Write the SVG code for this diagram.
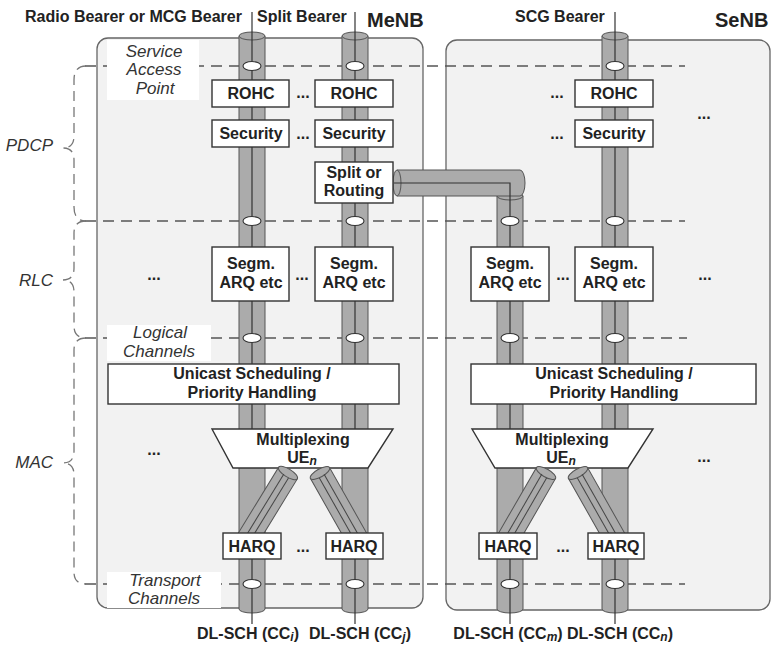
<svg xmlns="http://www.w3.org/2000/svg" width="774" height="646" viewBox="0 0 774 646">
<style>
.bg{fill:#f2f2f2;stroke:#666;stroke-width:1.3}
.box{fill:#fff;stroke:#333;stroke-width:1.4}
.lbl{fill:#fff;stroke:none}
.dash{fill:none;stroke:#555;stroke-width:1.3;stroke-dasharray:11 7}
.brace{fill:none;stroke:#777;stroke-width:1.3;stroke-dasharray:10 6}
.tube{fill:#ababab;stroke:#555;stroke-width:1}
.ln{stroke:#333;stroke-width:1.2;fill:none}
.dl{stroke:#444;stroke-width:1;fill:none}
.sap{fill:#fff;stroke:#333;stroke-width:1.1}
text{font-family:"Liberation Sans",Arial,sans-serif;font-weight:bold;font-size:16px;fill:#222}
.c{text-anchor:middle}
.it{font-style:italic;font-weight:normal;font-size:17px;fill:#333}
.big{font-size:20px}
.sub{font-style:italic;font-size:12px}
</style>

<g id="enb-areas">
<rect id="menb" class="bg" x="97" y="38" width="326" height="570" rx="11"/>
<rect id="senb" class="bg" x="446" y="40" width="324" height="570" rx="11"/>
<text x="367" y="27" class="big">MeNB</text>
<text x="715" y="27" class="big">SeNB</text>
</g>

<g id="layers">
<line class="dash" x1="85" y1="66" x2="685" y2="66"/>
<line class="dash" x1="85" y1="221" x2="685" y2="221"/>
<line class="dash" x1="85" y1="338" x2="687" y2="338"/>
<line class="dash" x1="85" y1="584" x2="685" y2="584"/>
<path class="brace" d="M86,66 Q74,66 74,80 V136 Q74,148 63,148 Q74,148 74,160 V207 Q74,221 86,221"/>
<path class="brace" d="M86,221 Q74,221 74,233 V268 Q74,280 63,280 Q74,280 74,292 V326 Q74,338 86,338"/>
<path class="brace" d="M86,338 Q74,338 74,350 V451 Q74,463 63,463 Q74,463 74,475 V572 Q74,584 86,584"/>
<text x="53" y="151" class="it" text-anchor="end">PDCP</text>
<text x="53" y="286" class="it" text-anchor="end">RLC</text>
<text x="53" y="468" class="it" text-anchor="end">MAC</text>
<rect class="lbl" x="107" y="40" width="92" height="60"/>
<text x="154" y="57" class="it c">Service</text>
<text x="154" y="75" class="it c">Access</text>
<text x="155" y="94" class="it c">Point</text>
<rect class="lbl" x="107" y="325" width="104" height="36"/>
<text x="160" y="338" class="it c">Logical</text>
<text x="159" y="357" class="it c">Channels</text>
<rect class="lbl" x="107" y="572" width="114" height="36"/>
<text x="165" y="586" class="it c">Transport</text>
<text x="164" y="604" class="it c">Channels</text>
</g>

<g id="connectors">
<path class="tube" d="M239,36 V609 A13,4 0 0 0 265,609 V36 Z"/>
<ellipse class="tube" cx="252" cy="36" rx="13" ry="4"/>
<path class="tube" d="M342,36 V609 A13,4 0 0 0 368,609 V36 Z"/>
<ellipse class="tube" cx="355" cy="36" rx="13" ry="4"/>
<path class="tube" d="M497,196 V609 A13,4 0 0 0 523,609 V196 Z"/>
<ellipse class="tube" cx="510" cy="196" rx="13" ry="4"/>
<path class="tube" d="M602,36 V609 A13,4 0 0 0 628,609 V36 Z"/>
<ellipse class="tube" cx="615" cy="36" rx="13" ry="4"/>
<path class="tube" d="M397,170 H520 A5,13 0 0 1 520,196 H397 Z"/>
<ellipse class="tube" cx="397" cy="183" rx="4" ry="13"/>
<line class="ln" x1="252" y1="12" x2="252" y2="429"/>
<line class="ln" x1="252" y1="559" x2="252" y2="624"/>
<line class="ln" x1="355" y1="12" x2="355" y2="429"/>
<line class="ln" x1="355" y1="559" x2="355" y2="624"/>
<path class="ln" d="M394,183 H510 V429"/>
<line class="ln" x1="510" y1="559" x2="510" y2="624"/>
<line class="ln" x1="615" y1="12" x2="615" y2="429"/>
<line class="ln" x1="615" y1="559" x2="615" y2="624"/>
<g id="saps">
<ellipse class="sap" cx="252" cy="66" rx="9" ry="4.5"/>
<ellipse class="sap" cx="355" cy="66" rx="9" ry="4.5"/>
<ellipse class="sap" cx="615" cy="66" rx="9" ry="4.5"/>
<ellipse class="sap" cx="252" cy="221" rx="9" ry="4.5"/>
<ellipse class="sap" cx="355" cy="221" rx="9" ry="4.5"/>
<ellipse class="sap" cx="510" cy="221" rx="9" ry="4.5"/>
<ellipse class="sap" cx="615" cy="221" rx="9" ry="4.5"/>
<ellipse class="sap" cx="252" cy="338" rx="9" ry="4.5"/>
<ellipse class="sap" cx="355" cy="338" rx="9" ry="4.5"/>
<ellipse class="sap" cx="510" cy="338" rx="9" ry="4.5"/>
<ellipse class="sap" cx="615" cy="338" rx="9" ry="4.5"/>
<ellipse class="sap" cx="252" cy="584" rx="9" ry="4.5"/>
<ellipse class="sap" cx="355" cy="584" rx="9" ry="4.5"/>
<ellipse class="sap" cx="510" cy="584" rx="9" ry="4.5"/>
<ellipse class="sap" cx="615" cy="584" rx="9" ry="4.5"/>
</g>
</g>

<g id="rohc1"><rect class="box" x="212" y="80" width="77" height="27"/><text x="251" y="99" class="c">ROHC</text></g>
<g id="rohc2"><rect class="box" x="315" y="80" width="78" height="27"/><text x="354" y="99" class="c">ROHC</text></g>
<g id="rohc4"><rect class="box" x="575" y="80" width="78" height="27"/><text x="614" y="99" class="c">ROHC</text></g>
<g id="sec1"><rect class="box" x="212" y="120" width="77" height="27"/><text x="251" y="139" class="c">Security</text></g>
<g id="sec2"><rect class="box" x="315" y="120" width="78" height="27"/><text x="354" y="139" class="c">Security</text></g>
<g id="sec4"><rect class="box" x="575" y="120" width="78" height="27"/><text x="614" y="139" class="c">Security</text></g>
<g id="split"><rect class="box" x="315" y="162" width="78" height="41"/><text x="354" y="178" class="c">Split or</text><text x="354" y="196" class="c">Routing</text></g>
<g id="segm1"><rect class="box" x="212" y="247" width="77" height="54"/><text x="251" y="269" class="c">Segm.</text><text x="251" y="288" class="c">ARQ etc</text></g>
<g id="segm2"><rect class="box" x="315" y="247" width="78" height="54"/><text x="354" y="269" class="c">Segm.</text><text x="354" y="288" class="c">ARQ etc</text></g>
<g id="segm3"><rect class="box" x="471" y="247" width="78" height="54"/><text x="510" y="269" class="c">Segm.</text><text x="510" y="288" class="c">ARQ etc</text></g>
<g id="segm4"><rect class="box" x="575" y="247" width="78" height="54"/><text x="614" y="269" class="c">Segm.</text><text x="614" y="288" class="c">ARQ etc</text></g>
<g id="sched-m"><rect class="box" x="108" y="364" width="291" height="40"/><text x="252" y="379" class="c">Unicast Scheduling /</text><text x="252" y="398" class="c">Priority Handling</text></g>
<g id="sched-s"><rect class="box" x="471" y="364" width="285" height="40"/><text x="614" y="379" class="c">Unicast Scheduling /</text><text x="614" y="398" class="c">Priority Handling</text></g>
<g id="mux-m"><polygon class="box" points="212,429 393,429 368,468 233,468"/><text x="303" y="445" class="c">Multiplexing</text><text x="302" y="463" class="c">UE<tspan class="sub" dy="2">n</tspan></text></g>
<g id="mux-s"><polygon class="box" points="472,429 653,429 628,468 495,468"/><text x="562" y="445" class="c">Multiplexing</text><text x="561" y="463" class="c">UE<tspan class="sub" dy="2">n</tspan></text></g>

<g id="mac-tubes">
<g transform="translate(288,473) rotate(31.5)"><path class="tube" d="M-11,0 V80 H11 V0 Z"/><ellipse class="tube" cx="0" cy="0" rx="11" ry="4"/><line class="dl" x1="-3" y1="3" x2="-3" y2="80"/><line class="dl" x1="3" y1="4" x2="3" y2="80"/></g>
<g transform="translate(320,473) rotate(-29.5)"><path class="tube" d="M-11,0 V80 H11 V0 Z"/><ellipse class="tube" cx="0" cy="0" rx="11" ry="4"/><line class="dl" x1="-3" y1="4" x2="-3" y2="80"/><line class="dl" x1="3" y1="3" x2="3" y2="80"/></g>
<g transform="translate(546,473) rotate(30)"><path class="tube" d="M-11,0 V80 H11 V0 Z"/><ellipse class="tube" cx="0" cy="0" rx="11" ry="4"/><line class="dl" x1="-3" y1="3" x2="-3" y2="80"/><line class="dl" x1="3" y1="4" x2="3" y2="80"/></g>
<g transform="translate(578,473) rotate(-29.5)"><path class="tube" d="M-11,0 V80 H11 V0 Z"/><ellipse class="tube" cx="0" cy="0" rx="11" ry="4"/><line class="dl" x1="-3" y1="4" x2="-3" y2="80"/><line class="dl" x1="3" y1="3" x2="3" y2="80"/></g>
</g>

<g id="harq1"><rect class="box" x="223" y="533" width="58" height="26"/><text x="252" y="552" class="c">HARQ</text></g>
<g id="harq2"><rect class="box" x="326" y="533" width="57" height="26"/><text x="354" y="552" class="c">HARQ</text></g>
<g id="harq3"><rect class="box" x="479" y="533" width="58" height="26"/><text x="508" y="552" class="c">HARQ</text></g>
<g id="harq4"><rect class="box" x="588" y="533" width="56" height="26"/><text x="616" y="552" class="c">HARQ</text></g>

<g id="dots">
<text x="303" y="98" class="c">...</text>
<text x="303" y="139" class="c">...</text>
<text x="557" y="98" class="c">...</text>
<text x="557" y="139" class="c">...</text>
<text x="704" y="119" class="c">...</text>
<text x="154" y="280" class="c">...</text>
<text x="302" y="280" class="c">...</text>
<text x="563" y="280" class="c">...</text>
<text x="705" y="280" class="c">...</text>
<text x="154" y="455" class="c">...</text>
<text x="704" y="462" class="c">...</text>
<text x="303" y="552" class="c">...</text>
<text x="563" y="552" class="c">...</text>
</g>

<g id="bearer-labels">
<text x="25" y="22">Radio Bearer or MCG Bearer</text>
<text x="257" y="22">Split Bearer</text>
<text x="515" y="22">SCG Bearer</text>
<text x="248" y="639" class="c">DL-SCH (CC<tspan class="sub" dy="1.5">i</tspan><tspan dy="-1.5">)</tspan></text>
<text x="360" y="639" class="c">DL-SCH (CC<tspan class="sub" dy="1.5">j</tspan><tspan dy="-1.5">)</tspan></text>
<text x="508" y="639" class="c">DL-SCH (CC<tspan class="sub" dy="1.5">m</tspan><tspan dy="-1.5">)</tspan></text>
<text x="620" y="639" class="c">DL-SCH (CC<tspan class="sub" dy="1.5">n</tspan><tspan dy="-1.5">)</tspan></text>
</g>
</svg>
